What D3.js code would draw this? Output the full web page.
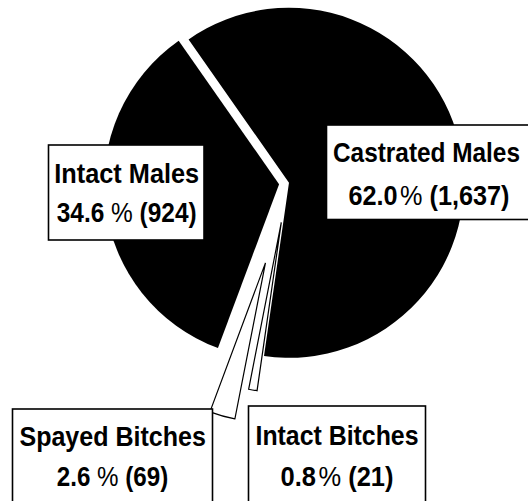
<!DOCTYPE html>
<html><head><meta charset="utf-8">
<script src="https://cdn.jsdelivr.net/npm/d3@7"></script>
<style>html,body{margin:0;padding:0;background:#fff;} svg{display:block}</style>
</head><body><svg id="c" width="528" height="501"></svg>
<script>
// ---- data ----
const categories = ["Castrated Males", "Intact Bitches", "Spayed Bitches", "Intact Males"];
const percents = [62.0, 0.8, 2.6, 34.6];
const counts = [1637, 21, 69, 924];
const percentLabels = ["62.0%", "0.8%", "2.6 %", "34.6 %"];
const countLabels = ["(1,637)", "(21)", "(69)", "(924)"];

// ---- layout / style ----
const cx = 288, cy = 183, startDeg = -35;
const sliceStyle = [
  {explode: 1,  r: 175, fill: "#000", stroke: "none"},
  {explode: 40, r: 170, fill: "#fff", stroke: "#000"},
  {explode: 83, r: 159, fill: "#fff", stroke: "#000"},
  {explode: 9,  r: 175, fill: "#000", stroke: "none"}
];
const boxes = [
  {x: 326.5, y: 125, w: 210, h: 94.5, cx: 426.5, b1: 162, l1: 187, cx2: 429, b2: 204.5, l2: 161},
  {x: 248.5, y: 406, w: 177, h: 110, cx: 337, b1: 444.5, l1: 163, cx2: 337, b2: 485.5, l2: 113},
  {x: 12.5, y: 409, w: 200, h: 110, cx: 112.7, b1: 445.5, l1: 186.5, cx2: 112.5, b2: 486, l2: 111.5},
  {x: 48.5, y: 145, w: 155.5, h: 95, cx: 126.7, b1: 183, l1: 145, cx2: 126.7, b2: 222, l2: 140}
];
const FONT = "'Liberation Sans', Arial, sans-serif", FS = 27.5;

const svg = d3.select("#c");
const s0 = startDeg * Math.PI / 180;
const pie = d3.pie().sort(null).value(d => d).startAngle(s0).endAngle(s0 + 2 * Math.PI);
const arcs = pie(percents);

const gPie = svg.append("g");
arcs.forEach((a, i) => {
  const st = sliceStyle[i];
  const mid = (a.startAngle + a.endAngle) / 2;
  const ox = cx + Math.sin(mid) * st.explode;
  const oy = cy - Math.cos(mid) * st.explode;
  const arc = d3.arc().innerRadius(0).outerRadius(st.r);
  gPie.append("path")
    .attr("transform", `translate(${ox},${oy})`)
    .attr("d", arc(a))
    .attr("fill", st.fill)
    .attr("stroke", st.stroke)
    .attr("stroke-width", 1.2)
    .attr("stroke-linejoin", "miter");
});
gPie.selectAll("path").filter((d, i) => sliceStyle[i].fill === "#fff").raise();

const gLab = svg.append("g")
  .attr("font-family", FONT)
  .attr("font-size", FS)
  .attr("fill", "#000");

categories.forEach((c, i) => {
  const b = boxes[i];
  gLab.append("rect")
    .attr("x", b.x).attr("y", b.y).attr("width", b.w).attr("height", b.h)
    .attr("fill", "#fff").attr("stroke", "#000").attr("stroke-width", 1.6);
  gLab.append("text")
    .attr("x", b.cx).attr("y", b.b1)
    .attr("text-anchor", "middle")
    .attr("font-weight", "bold")
    .attr("textLength", b.l1).attr("lengthAdjust", "spacingAndGlyphs")
    .text(c);

  // second line: number (bold), % (light), count (bold) as separate texts
  const pl = percentLabels[i];
  const num = pl.split("%")[0].trim();
  const gapBefore = pl.includes(" %") ? 1 : 0.35;
  const parts = [
    {t: num, w: "bold", gap: 0},
    {t: "%", w: "normal", gap: gapBefore},
    {t: countLabels[i], w: "bold", gap: 1}
  ];
  const nodes = parts.map(p => gLab.append("text")
    .attr("y", b.b2).attr("font-weight", p.w).text(p.t));
  const widths = nodes.map(n => n.node().getComputedTextLength());
  const spaceW = FS * 0.278;
  let total = 0;
  parts.forEach((p, k) => { total += p.gap * spaceW + widths[k]; });
  const k = b.l2 / total;
  let x = b.cx2 - b.l2 / 2;
  parts.forEach((p, j) => {
    x += p.gap * spaceW * k;
    nodes[j].attr("x", x)
      .attr("textLength", widths[j] * k)
      .attr("lengthAdjust", "spacingAndGlyphs");
    x += widths[j] * k;
  });
});
</script>
</body></html>
